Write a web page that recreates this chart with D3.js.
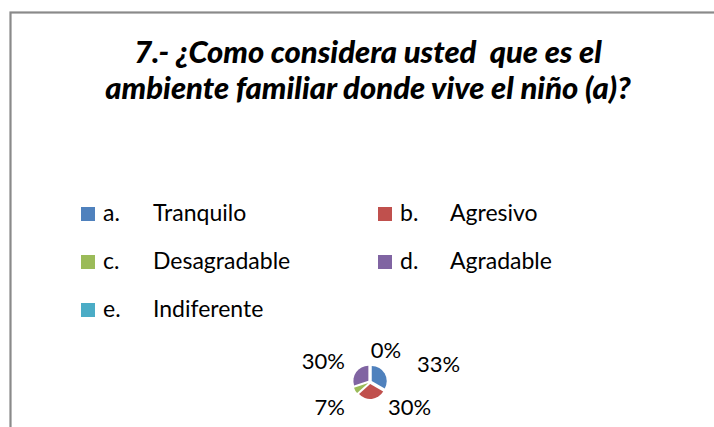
<!DOCTYPE html>
<html lang="es">
<head>
  <meta charset="UTF-8">
  <title>Ambiente familiar</title>
  <script src="https://d3js.org/d3.v7.min.js"></script>
  <style>
    body { margin: 0; background: #fff; }
    text { font-family: Lato, "Open Sans", sans-serif; fill: #000; }
  </style>
</head>
<body>
<div id="chart"></div>

<script>
  // data (30 answers)
  var letters = ["a.", "b.", "c.", "d.", "e."];
  var categories = ["Tranquilo", "Agresivo", "Desagradable", "Agradable", "Indiferente"];
  var counts = [10, 9, 2, 9, 0];
  var colors = ["#4F81BD", "#C0504D", "#9BBB59", "#8064A2", "#4BACC6"];
  var titleLines = ["7.- ¿Como considera usted  que es el",
                    "ambiente familiar donde vive el niño (a)?"];

  var width = 714, height = 427;

  var svg = d3.select("#chart")
    .append("svg")
    .attr("width", width)
    .attr("height", height);

  // frame of the chart area
  svg.append("rect")
    .attr("x", 10.5)
    .attr("y", 12.5)
    .attr("width", width + 20)
    .attr("height", height + 20)
    .attr("fill", "#fff")
    .attr("stroke", "#8a8a8a")
    .attr("stroke-width", 2.2);

  // title
  svg.append("g")
    .selectAll("text")
    .data(titleLines)
    .enter()
    .append("text")
    .attr("x", 368)
    .attr("y", function(d, i) { return 63 + i * 36; })
    .attr("text-anchor", "middle")
    .style("white-space", "pre")
    .style("font-size", "31px")
    .style("font-weight", "900")
    .style("font-style", "italic")
    .text(function(d) { return d; });

  // legend, two columns
  var colX = [81, 378];
  var legend = svg.append("g")
    .selectAll("g")
    .data(categories)
    .enter()
    .append("g")
    .attr("transform", function(d, i) {
      return "translate(" + colX[i % 2] + "," + (221 + Math.floor(i / 2) * 48) + ")";
    });

  legend.append("rect")
    .attr("x", 0)
    .attr("y", -14)
    .attr("width", 14)
    .attr("height", 14)
    .attr("fill", function(d, i) { return colors[i]; });

  legend.append("text")
    .attr("x", 22)
    .style("font-size", "23px")
    .text(function(d, i) { return letters[i]; });

  legend.append("text")
    .attr("x", 72)
    .style("font-size", "23px")
    .text(function(d) { return d; });

  // small exploded pie
  var cx = 370, cy = 382, radius = 15, explode = 2;
  var total = d3.sum(counts);

  var pie = d3.pie().sort(null).value(function(d) { return d; });
  var arc = d3.arc().innerRadius(0).outerRadius(radius);
  var arcs = pie(counts);

  var pieG = svg.append("g")
    .attr("transform", "translate(" + cx + "," + cy + ")");

  pieG.selectAll("path")
    .data(arcs)
    .enter()
    .append("path")
    .attr("d", arc)
    .attr("fill", function(d, i) { return colors[i]; })
    .attr("transform", function(d) {
      var a = (d.startAngle + d.endAngle) / 2;
      return "translate(" + (explode * Math.sin(a)) + "," + (-explode * Math.cos(a)) + ")";
    });

  // percentage labels: right side anchored at start, left side at end
  var fmt = d3.format(".0%");
  function mid(d) { return (d.startAngle + d.endAngle) / 2; }
  pieG.selectAll("text")
    .data(arcs)
    .enter()
    .append("text")
    .attr("x", function(d) {
      var s = Math.sin(mid(d));
      if (s > 0.05) return 14 + 38 * s;
      if (s < -0.05) return -25;
      return 16;
    })
    .attr("y", function(d) {
      var c = -Math.cos(mid(d));
      return c > 0 ? 25 : -4 + 28 * c;
    })
    .attr("dy", "0.35em")
    .attr("text-anchor", function(d) {
      var s = Math.sin(mid(d));
      return s > 0.05 ? "start" : (s < -0.05 ? "end" : "middle");
    })
    .style("font-size", "22px")
    .text(function(d) { return fmt(d.value / total); });
</script>
</body>
</html>
